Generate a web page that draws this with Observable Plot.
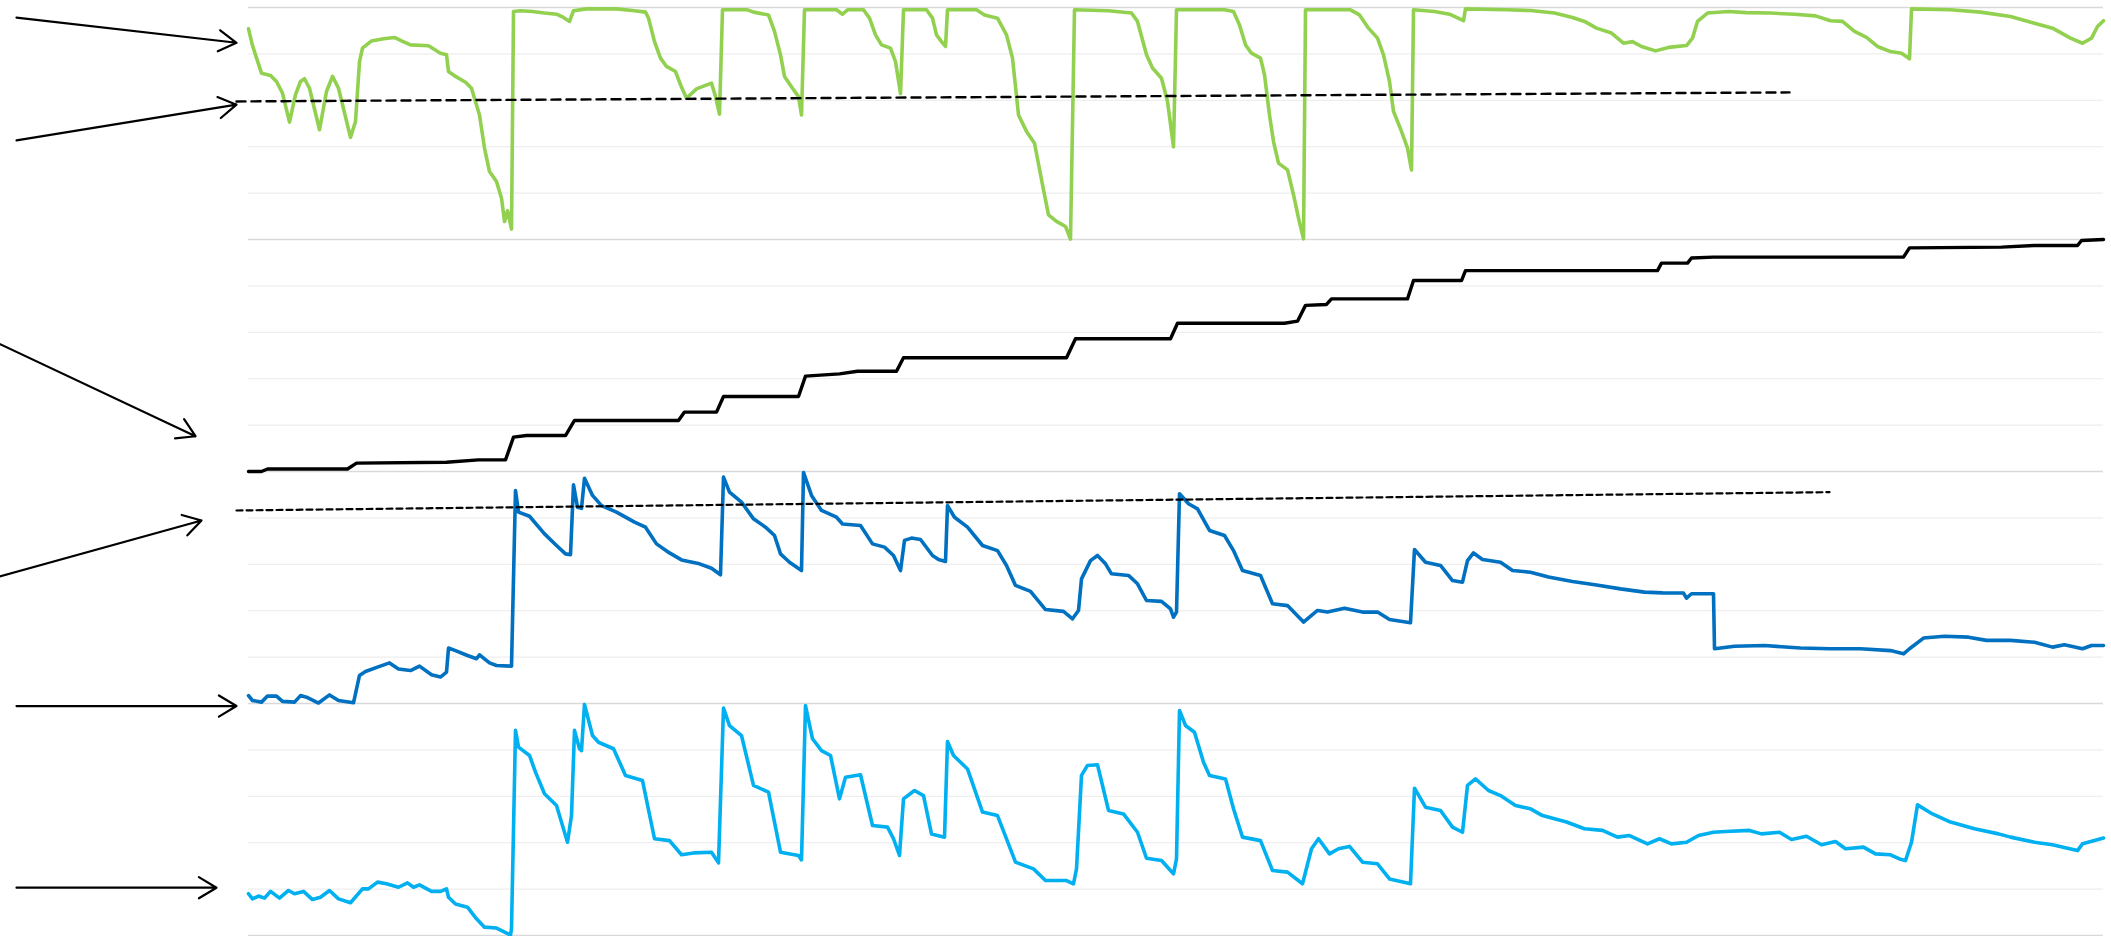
<!DOCTYPE html>
<html>
<head>
<meta charset="utf-8">
<script src="https://cdn.jsdelivr.net/npm/d3@7"></script>
<script src="https://cdn.jsdelivr.net/npm/@observablehq/plot@0.6"></script>
<style>
  html, body { margin: 0; padding: 0; background: #ffffff; }
  #chart svg { display: block; overflow: visible; }
</style>
</head>
<body>
<div id="chart"></div>
<script>
// ---- data: [sample index, value in % of panel height] ----
const panelGreen = [
  [0,90.8],[4,83.6],[7,79.6],[13,71.7],[22,70.7],[28,68.1],[34,63.1],[41,50.6],[47,62.4],[52,68.1],[56,69.3],[61,65.2],
  [71,47.3],[78,63.8],[84,70.3],[90,65.2],[102,44.0],[107,50.9],[111,76.7],[114,82.5],[123,85.6],[135,86.5],[146,87.1],
  [153,85.6],[162,83.9],[180,83.5],[192,80.3],[198,79.6],[200,72.4],[207,70.3],[217,67.8],[223,65.2],[231,53.7],[236,39.4],
  [241,29.3],[248,25.0],[253,17.8],[256,7.8],[259,12.4],[263,4.5],[265,98.3],[272,98.6],[284,98.3],[296,97.6],[308,97.1],
  [315,95.7],[321,94.0],[325,98.6],[338,99.4],[368,99.4],[386,98.6],[397,98.0],[400,95.4],[406,85.3],[412,78.2],[418,74.6],
  [427,72.4],[432,66.7],[438,60.9],[448,64.9],[463,67.4],[467,61.6],[471,54.0],[474,99.0],[499,99.0],[505,98.0],[520,96.8],
  [526,89.7],[532,79.6],[536,70.3],[544,65.2],[550,61.6],[553,53.7],[556,99.0],[588,99.0],[594,97.1],[599,99.0],[615,99.0],
  [621,95.4],[627,88.2],[633,83.9],[642,82.5],[647,76.7],[652,62.9],[655,99.0],[678,99.0],[684,95.4],[688,88.2],[693,85.3],
  [697,83.2],[699,99.0],[728,99.0],[736,96.8],[749,95.4],[758,88.2],[764,78.2],[770,53.7],[778,46.6],[786,41.5],[794,23.6],
  [800,10.6],[808,7.8],[817,5.6],[822,0.2],[826,99.0],[860,98.6],[883,97.6],[889,94.0],[898,79.6],[904,73.9],[913,69.5],
  [919,59.5],[925,40.0],[928,99.0],[952,99.0],[976,99.0],[985,98.3],[991,92.5],[997,83.9],[1003,80.3],[1012,78.2],[1016,71.0],
  [1021,53.7],[1025,42.2],[1030,32.9],[1039,30.0],[1045,19.3],[1050,9.2],[1055,0.3],[1057,99.0],[1078,99.0],[1102,99.0],
  [1111,96.8],[1120,91.1],[1129,86.8],[1135,79.6],[1141,68.1],[1145,55.2],[1153,46.6],[1159,39.4],[1163,30.0],[1165,99.0],
  [1186,98.3],[1201,97.1],[1215,94.3],[1217,99.4],[1258,99.0],[1282,98.7],[1306,97.6],[1324,95.7],[1336,94.0],[1348,91.1],
  [1363,89.0],[1375,84.6],[1384,85.3],[1393,83.2],[1407,81.3],[1420,82.8],[1438,83.6],[1444,86.8],[1449,94.0],[1459,97.6],
  [1480,98.3],[1498,97.8],[1522,97.6],[1546,97.1],[1567,96.4],[1582,94.3],[1594,94.0],[1606,89.7],[1618,87.1],[1629,83.2],
  [1642,81.0],[1653,80.3],[1661,77.9],[1663,99.4],[1702,99.0],[1732,98.0],[1762,96.1],[1786,93.2],[1804,91.1],[1822,86.8],
  [1834,84.6],[1843,86.8],[1849,91.8],[1855,94.3]
];
const panelBlack = [
  [0,0],[13,0],[19,1.1],[99,1.1],[108,3.6],[198,4.0],[230,5.0],[257,5.0],[265,14.8],[278,15.5],[317,15.5],[326,22.0],
  [430,22.0],[436,25.6],[468,25.6],[475,32.3],[550,32.3],[557,41.1],[591,42.1],[609,43.2],[648,43.2],[655,49.0],[818,49.0],
  [827,57.2],[922,57.2],[929,63.9],[1036,63.9],[1049,64.8],[1057,71.6],[1078,72.0],[1083,74.4],[1159,74.4],[1165,82.3],
  [1213,82.3],[1217,86.6],[1409,86.6],[1413,89.8],[1439,89.8],[1443,92.0],[1465,92.4],[1655,92.4],[1661,96.4],[1753,96.7],
  [1786,97.4],[1829,97.4],[1833,99.6],[1855,100]
];
const panelBlue = [
  [0,3.4],[4,1.3],[13,0.6],[19,3.2],[28,3.2],[34,0.9],[46,0.6],[52,3.4],[58,2.7],[70,0.2],[81,3.7],[90,1.3],[105,0.3],
  [111,12.1],[117,13.8],[129,15.7],[141,17.5],[150,14.9],[162,14.2],[171,16.1],[183,12.4],[192,11.4],[198,13.5],[200,23.9],
  [207,22.8],[219,20.7],[228,19.3],[231,21.0],[241,17.5],[248,16.4],[263,16.1],[267,91.8],[270,82.5],[281,80.7],[296,73.1],
  [308,68.1],[317,64.5],[322,64.1],[325,94.3],[329,84.6],[333,84.1],[336,97.1],[344,89.7],[353,85.3],[368,82.5],[386,78.2],
  [397,76.0],[408,68.8],[421,64.9],[433,61.9],[451,60.2],[463,58.3],[472,55.5],[475,97.6],[481,91.1],[493,86.8],[505,79.6],
  [517,76.0],[526,72.4],[532,64.5],[541,60.9],[553,57.3],[555,99.6],[563,89.7],[573,83.2],[588,80.3],[594,77.4],[612,76.7],
  [624,68.8],[636,67.4],[645,63.8],[652,57.3],[656,70.3],[663,71.3],[672,70.7],[684,63.8],[690,62.1],[697,61.2],[699,85.3],
  [706,80.3],[719,76.0],[734,68.1],[749,65.9],[758,59.5],[767,50.9],[782,48.3],[797,40.5],[815,39.7],[824,36.5],[830,40.1],
  [833,53.7],[842,61.6],[849,63.8],[857,60.2],[863,55.9],[880,55.2],[889,51.6],[898,44.4],[913,44.0],[922,40.8],[925,37.2],
  [928,39.4],[931,90.4],[940,86.1],[949,83.9],[961,74.6],[976,72.4],[985,65.9],[994,57.3],[1012,55.2],[1024,43.0],
  [1039,42.2],[1055,35.1],[1069,40.1],[1079,39.4],[1096,41.1],[1114,39.4],[1129,39.4],[1141,36.2],[1162,34.8],[1166,66.4],
  [1177,60.9],[1192,59.5],[1204,53.0],[1214,52.3],[1219,61.6],[1225,64.9],[1234,62.1],[1252,60.9],[1264,57.3],[1282,56.6],
  [1300,54.5],[1324,52.6],[1348,51.1],[1372,49.4],[1396,48.0],[1414,47.7],[1435,47.6],[1438,45.4],[1443,47.3],[1465,47.3],
  [1466,23.6],[1486,24.7],[1516,25.0],[1552,23.9],[1582,23.6],[1612,23.6],[1642,22.8],[1655,21.4],[1661,23.6],[1675,28.2],
  [1696,29.0],[1720,28.6],[1738,27.2],[1762,27.2],[1786,26.4],[1804,24.3],[1816,25.3],[1834,23.6],[1843,25.0],[1855,25.0]
];
const panelLightBlue = [
  [0,18.0],[4,15.8],[10,17.0],[16,16.1],[22,19.0],[31,16.1],[40,19.4],[46,18.0],[55,19.0],[64,15.5],[72,16.5],[81,19.4],
  [90,15.8],[102,14.1],[114,20.1],[120,20.1],[129,23.0],[138,22.3],[150,20.8],[159,22.7],[165,20.8],[171,21.8],[183,19.0],
  [192,19.0],[198,20.1],[200,16.5],[207,13.6],[219,12.2],[228,7.2],[236,3.6],[248,3.2],[262,0.2],[263,2.9],[267,88.4],
  [270,81.2],[281,77.6],[287,70.4],[296,61.1],[308,56.0],[319,40.2],[323,51.7],[326,88.4],[331,80.5],[333,79.7],[336,99.6],
  [344,86.2],[350,83.3],[365,80.5],[377,69.0],[394,66.8],[406,41.7],[421,40.9],[433,34.8],[445,35.6],[463,35.9],[470,31.3],
  [475,98.0],[481,90.5],[493,86.2],[505,64.7],[520,61.8],[532,35.9],[550,34.5],[553,32.6],[557,99.1],[564,84.8],[573,79.7],
  [582,77.6],[591,58.9],[597,68.2],[612,69.3],[624,47.4],[639,46.7],[645,41.7],[651,34.5],[655,58.9],[666,62.5],[675,60.3],
  [683,43.8],[696,42.4],[699,83.6],[705,77.6],[719,71.8],[734,53.2],[749,51.7],[767,31.6],[785,28.7],[797,23.7],[818,23.7],
  [825,22.3],[828,28.7],[833,69.0],[839,73.3],[849,73.6],[860,53.9],[875,52.4],[889,44.5],[898,33.3],[913,32.3],[922,28.0],
  [925,26.6],[928,33.0],[931,97.0],[937,90.5],[946,87.6],[955,74.7],[961,69.0],[977,67.5],[985,54.6],[994,42.4],[1012,40.9],
  [1024,28.0],[1039,27.3],[1054,22.3],[1063,37.4],[1070,41.7],[1081,35.2],[1090,37.4],[1101,38.4],[1114,31.6],[1129,30.9],
  [1141,24.4],[1162,22.3],[1166,63.5],[1177,55.3],[1192,53.9],[1204,46.7],[1214,44.5],[1219,64.7],[1227,67.5],[1240,62.5],
  [1252,60.3],[1267,56.0],[1282,54.6],[1294,51.7],[1318,48.9],[1336,46.0],[1354,45.3],[1369,42.4],[1381,43.1],[1399,39.5],
  [1411,41.7],[1423,39.5],[1438,40.2],[1450,43.1],[1465,44.5],[1477,44.8],[1501,45.3],[1513,43.8],[1531,44.5],[1543,41.4],
  [1558,42.8],[1573,39.1],[1587,40.5],[1597,37.4],[1615,38.1],[1627,35.2],[1642,34.8],[1651,33.0],[1657,32.3],[1663,40.2],
  [1669,56.3],[1684,52.4],[1702,48.9],[1726,46.0],[1750,43.8],[1762,42.4],[1786,40.2],[1804,39.1],[1819,37.6],[1829,36.6],
  [1834,39.5],[1846,40.9],[1855,42.0]
];
// reference (dashed) lines: [start index, start value, end index, end value]
const refGreen = [-12, 59.5, 1541, 63.4];
const refBlue  = [-12, 83.2, 1581, 91.1];
// annotation arrows: [panel, x1, v1, x2, v2]
const arrowList = [
  [1, -232, 95.6, -12, 84.8],
  [1, -232, 42.7, -12, 58.1],
  [2, -252, 55.6, -53, 15.2],
  [3, -252, 54.4, -47, 78.9],
  [4, -232, 98.9, -12, 98.9],
  [4, -232, 20.6, -32, 20.6]
];
const panelCount = 4;
const xMax = 1855;
const gridStep = 20;

// ---- build tables (panel 1 at top) ----
const offset = p => (panelCount - p) * 100;
const toRows = (arr, p) => arr.map(([t, v]) => ({t, y: v + offset(p)}));
const series = [
  {rows: toRows(panelGreen, 1), color: "#92d050", w: 3.6},
  {rows: toRows(panelBlack, 2), color: "#000000", w: 3.4},
  {rows: toRows(panelBlue, 3), color: "#0070c0", w: 3.6},
  {rows: toRows(panelLightBlue, 4), color: "#00b0f0", w: 3.6}
];
const refRows = (r, p) => [{t: r[0], y: r[1] + offset(p)}, {t: r[2], y: r[3] + offset(p)}];
const arrows = arrowList.map(([p, x1, v1, x2, v2]) => ({x1, y1: v1 + offset(p), x2, y2: v2 + offset(p)}));
const allTicks = d3.range(0, panelCount * 100 + 1, gridStep);
const innerTicks = allTicks.filter(v => v % 100 !== 0);
const borderTicks = allTicks.filter(v => v % 100 === 0);

const chart = Plot.plot({
  width: 2111,
  height: 936,
  marginLeft: 248,
  marginRight: 8,
  marginTop: 7,
  marginBottom: 1,
  x: {domain: [0, xMax], axis: null},
  y: {domain: [0, panelCount * 100], axis: null},
  style: {background: "#ffffff", overflow: "visible"},
  marks: [
    Plot.ruleY(innerTicks, {x1: 0, x2: xMax, stroke: "#eeeeee", strokeWidth: 1.2}),
    Plot.ruleY(borderTicks, {x1: 0, x2: xMax, stroke: "#d9d9d9", strokeWidth: 1.6}),
    ...series.map(s => Plot.line(s.rows, {x: "t", y: "y", stroke: s.color, strokeWidth: s.w, strokeLinejoin: "round", strokeLinecap: "round"})),
    Plot.line(refRows(refGreen, 1), {x: "t", y: "y", stroke: "#000", strokeWidth: 2.4, strokeDasharray: "9,6"}),
    Plot.line(refRows(refBlue, 3), {x: "t", y: "y", stroke: "#000", strokeWidth: 2.2, strokeDasharray: "6,4"}),
    Plot.arrow(arrows, {x1: "x1", y1: "y1", x2: "x2", y2: "y2", stroke: "#000", strokeWidth: 2.2, headLength: 14, headAngle: 62})
  ]
});
document.getElementById("chart").appendChild(chart);
</script>
</body>
</html>
